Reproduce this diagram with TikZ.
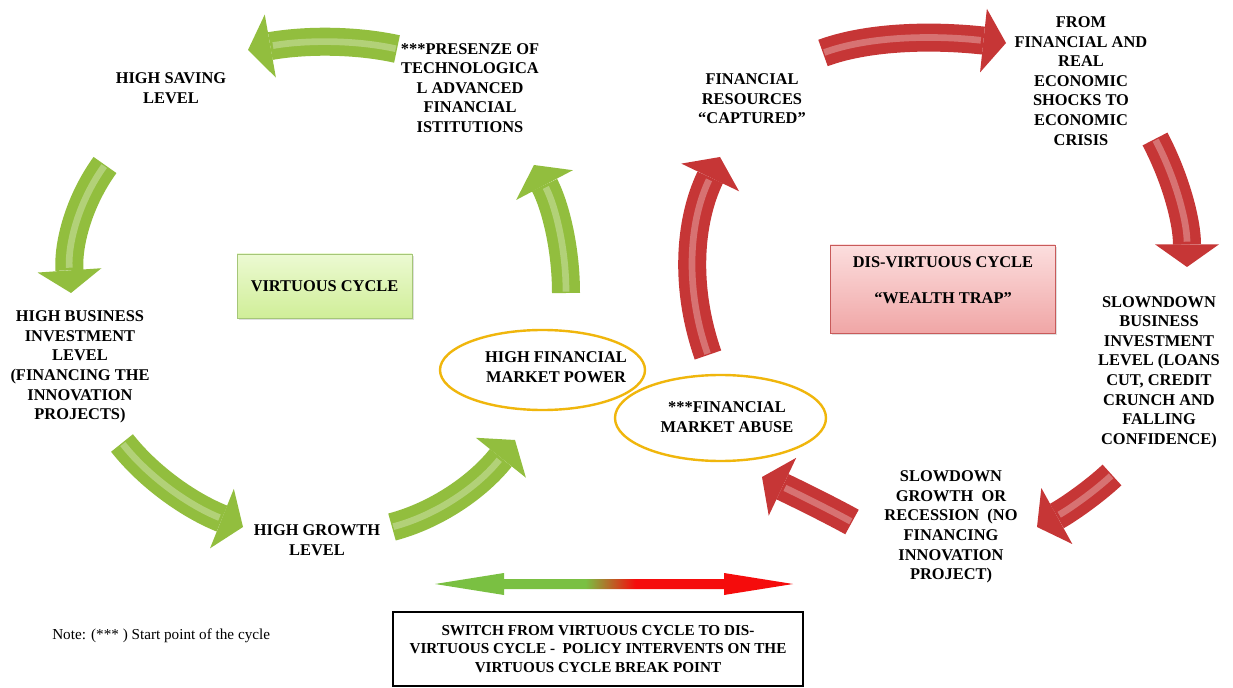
\documentclass[tikz,border=0pt]{standalone}
\usepackage{fontspec}
\setmainfont{Liberation Serif}
\usepackage{tikz}
\usetikzlibrary{arrows.meta, shapes.geometric, positioning, shadows, calc}

\definecolor{cyclegreen}{RGB}{146,190,62}
\definecolor{cyclered}{RGB}{198,54,54}
\definecolor{ringgold}{RGB}{240,182,12}
\definecolor{switchgreen}{RGB}{122,192,66}
\definecolor{switchred}{RGB}{245,12,12}
\pgfdeclarehorizontalshading{switchshade}{100bp}{color(0bp)=(switchgreen); color(46bp)=(switchgreen); color(53bp)=(switchred); color(100bp)=(switchred)}

\begin{document}
\begin{tikzpicture}[x=0.75pt, y=-0.75pt,
    txt/.style={align=center, inner sep=0pt, font=\bfseries\fontsize{12.3}{14.7}\selectfont},
    ring/.style={ellipse, draw=ringgold, line width=1.8pt},
    greenbox/.style={rectangle, draw={rgb,255:red,165;green,198;blue,120}, top color={rgb,255:red,236;green,250;blue,210}, bottom color={rgb,255:red,208;green,238;blue,152}, drop shadow={opacity=0.25, shadow xshift=1.5pt, shadow yshift=-1.5pt}},
    pinkbox/.style={rectangle, draw={rgb,255:red,200;green,90;blue,90}, top color={rgb,255:red,252;green,222;blue,222}, bottom color={rgb,255:red,240;green,166;blue,166}, drop shadow={opacity=0.25, shadow xshift=1.5pt, shadow yshift=-1.5pt}},
    bigarrow/.style={draw=#1, line width=21pt, -{Triangle[length=17pt, width=48pt, line width=0pt]},
        postaction={draw=white, draw opacity=0.3, line width=5pt, arrows=-, shorten >=19pt, shorten <=1pt}}]

    \fill [white] (0,0) rectangle (1233,688);
    \useasboundingbox (0,0) rectangle (1233,688);

    % Virtuous cycle
    \node [txt] (saving) at (171,88) {HIGH SAVING\\LEVEL};
    \node [txt] (presenze) at (470,88) {***PRESENZE OF\\TECHNOLOGICA\\L ADVANCED\\FINANCIAL\\ISTITUTIONS};
    \node [txt] (business) at (80,367) {HIGH BUSINESS\\INVESTMENT\\LEVEL\\(FINANCING THE\\INNOVATION\\PROJECTS)};
    \node [txt] (growth) at (317,540) {HIGH GROWTH\\LEVEL};
    \node [greenbox, minimum width=131.25pt, minimum height=48pt, txt] (virtuous) at (324.5,286) {VIRTUOUS CYCLE};
    \node [ring, minimum width=153.75pt, minimum height=60pt] (powerring) at (542.5,370) {};
    \node [txt] (power) at (556,367) {HIGH FINANCIAL\\MARKET POWER};

    % Dis-virtuous cycle
    \node [ring, minimum width=158.25pt, minimum height=64.5pt] (abusering) at (720.5,418) {};
    \node [txt] (abuse) at (727,417) {***FINANCIAL\\MARKET ABUSE};
    \node [txt] (captured) at (752,99) {FINANCIAL\\RESOURCES\\“CAPTURED”};
    \node [txt] (shocks) at (1081,81) {FROM\\FINANCIAL AND\\REAL\\ECONOMIC\\SHOCKS TO\\ECONOMIC\\CRISIS};
    \node [txt] (invest) at (1159,372) {SLOWNDOWN\\BUSINESS\\INVESTMENT\\LEVEL (LOANS\\CUT, CREDIT\\CRUNCH AND\\FALLING\\CONFIDENCE)};
    \node [txt] (recession) at (951,527) {SLOWDOWN\\GROWTH\ \ OR\\RECESSION\ \ (NO\\FINANCING\\INNOVATION\\PROJECT)};
    \node [pinkbox, minimum width=168.75pt, minimum height=66pt] (disbox) at (942.5,289) {};
    \node [txt] (distxt) at (943,280) {DIS-VIRTUOUS CYCLE\\[12.3pt]“WEALTH TRAP”};

    % Arrow ends and bends
    \coordinate (g1a) at (397,49);   \coordinate (g1c) at (333,35);   \coordinate (g1b) at (248,50);
    \coordinate (g2a) at (105,165);  \coordinate (g2c) at (66,219);   \coordinate (g2b) at (71,293);
    \coordinate (g3a) at (122,443);  \coordinate (g3c) at (163,495);  \coordinate (g3b) at (243,527);
    \coordinate (g4a) at (392,527);  \coordinate (g4c) at (460,509);  \coordinate (g4b) at (515,440);
    \coordinate (g5a) at (566,293);  \coordinate (g5c) at (566,226);  \coordinate (g5b) at (534,165);
    \coordinate (r1a) at (823,53);   \coordinate (r1c) at (885,30);   \coordinate (r1b) at (1006,43);
    \coordinate (r2a) at (1155,139); \coordinate (r2c) at (1187,200); \coordinate (r2b) at (1187,267);
    \coordinate (r3a) at (1112,475); \coordinate (r3c) at (1084,501); \coordinate (r3b) at (1037,527);
    \coordinate (r4a) at (852,522);  \coordinate (r4c) at (823,506);  \coordinate (r4b) at (762,477);
    \coordinate (r5a) at (708,355);  \coordinate (r5c) at (673,255);  \coordinate (r5b) at (720,157);

    % Arrows of the virtuous cycle
    \foreach \a in {g1,g2,g3,g4,g5}
        \path [bigarrow=cyclegreen] (\a a) .. controls ($(\a a)!2/3!(\a c)$) and ($(\a b)!2/3!(\a c)$) .. (\a b);

    % Arrows of the dis-virtuous cycle
    \foreach \a in {r1,r2,r3,r4,r5}
        \path [bigarrow=cyclered] (\a a) .. controls ($(\a a)!2/3!(\a c)$) and ($(\a b)!2/3!(\a c)$) .. (\a b);

    % Switch
    \coordinate (swl) at (435,584);
    \coordinate (swr) at (793,584);
    \shade [shading=switchshade] (swl) -- (504,573) -- (504,579) -- (724,579) -- (724,573) -- (swr)
        -- (724,595) -- (724,589) -- (504,589) -- (504,595) -- cycle;
    \node [draw, line width=1.1pt, minimum width=307.5pt, minimum height=55.5pt, align=center,
        font=\bfseries\fontsize{11.4}{13.9}\selectfont] (switch) at (598,649)
        {SWITCH FROM VIRTUOUS CYCLE TO DIS-\\VIRTUOUS CYCLE -\ \ POLICY INTERVENTS ON THE\\VIRTUOUS CYCLE BREAK POINT};
    \node [anchor=west, inner sep=0pt, font=\fontsize{11.4}{13.9}\selectfont] (note) at (52,636) {Note: (*** ) Start point of the cycle};

\end{tikzpicture}
\end{document}
